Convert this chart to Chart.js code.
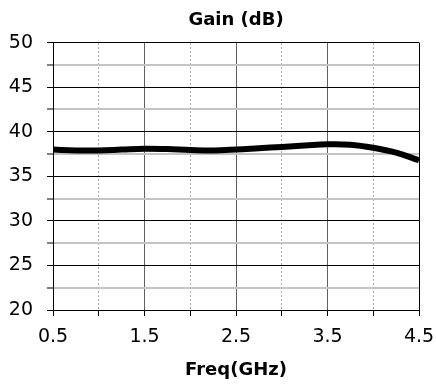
<!DOCTYPE html>
<html>
<head>
<meta charset="utf-8">
<script src="https://cdn.jsdelivr.net/npm/chart.js@4.4.1/dist/chart.umd.min.js"></script>
<style>
  html, body { margin: 0; padding: 0; background: #fff; }
  #wrap { width: 436px; height: 388px; }
</style>
</head>
<body>
<div id="wrap"><canvas id="gainChart" width="436" height="388"></canvas></div>
<script>
// values
const freqs = [0.5, 0.75, 1.0, 1.25, 1.5, 1.75, 2.0, 2.25, 2.5, 2.75, 3.0, 3.25, 3.5, 3.75, 4.0, 4.25, 4.5];
const gain = [38.0, 37.9, 37.9, 38.0, 38.1, 38.05, 37.95, 37.9, 38.0, 38.15, 38.3, 38.45, 38.6, 38.55, 38.2, 37.65, 36.8];
const xMajorTicks = [0.5, 1.5, 2.5, 3.5, 4.5];
const xMinorTicks = [1.0, 2.0, 3.0, 4.0];
const yTicks = [20, 25, 30, 35, 40, 45, 50];

const FONT = "'DejaVu Sans', Verdana, sans-serif";

const ctx = document.getElementById("gainChart").getContext("2d");
new Chart(ctx, {
  type: "line",
  data: {
    datasets: [{
      data: freqs.map((f, i) => ({ x: f, y: gain[i] })),
      borderColor: "#000",
      borderWidth: 6,
      pointRadius: 0,
      tension: 0.4,
      fill: false
    }]
  },
  options: {
    responsive: false,
    animation: false,
    layout: { padding: { left: 0, right: 17, top: 0, bottom: 0 } },
    plugins: {
      legend: { display: false },
      tooltip: { enabled: false },
      title: {
        display: true,
        fullSize: false,
        text: "Gain (dB)",
        color: "#000",
        font: { family: FONT, size: 18, weight: "bold" },
        padding: { top: 10, bottom: 11 }
      }
    },
    scales: {
      x: {
        type: "linear",
        position: "bottom",
        min: 0.5,
        max: 4.5,
        afterBuildTicks: axis => {
          axis.ticks = xMajorTicks.concat(xMinorTicks).sort((a, b) => a - b).map(v => ({ value: v }));
        },
        afterFit: axis => {
          axis.height = 78;
          axis.paddingLeft = 0;
          axis.paddingRight = 0;
        },
        ticks: {
          color: "#000",
          font: { family: FONT, size: 19 },
          padding: 10,
          maxRotation: 0,
          autoSkip: false,
          callback: v => xMajorTicks.includes(v) ? v.toFixed(1) : ""
        },
        grid: {
          color: c => {
            const v = c.tick ? c.tick.value : 0;
            if (!xMajorTicks.includes(v)) return "rgba(0,0,0,0)";
            return v === 4.5 ? "#000" : "#606060";
          },
          lineWidth: 1,
          tickColor: "#000",
          tickWidth: 1,
          tickLength: 6
        },
        border: { color: "#000", width: 1 },
        title: {
          display: true,
          text: "Freq(GHz)",
          color: "#000",
          font: { family: FONT, size: 18, weight: "bold" },
          padding: { top: 0, bottom: 7 }
        }
      },
      x2: {
        type: "linear",
        position: "top",
        min: 0.5,
        max: 4.5,
        afterBuildTicks: axis => {
          axis.ticks = xMinorTicks.map(v => ({ value: v }));
        },
        afterFit: axis => {
          axis.height = 0;
          axis.paddingLeft = 0;
          axis.paddingRight = 0;
        },
        ticks: { display: false },
        grid: { color: "#a8a8a8", lineWidth: 1, drawTicks: false },
        border: { display: false, dash: [2, 2] }
      },
      y: {
        min: 20,
        max: 50,
        afterBuildTicks: axis => {
          const t = [];
          for (let i = 0; i < yTicks.length; i++) {
            t.push({ value: yTicks[i] });
            if (i < yTicks.length - 1) t.push({ value: yTicks[i] + 2.5 });
          }
          axis.ticks = t;
        },
        afterFit: axis => { axis.width = 53; },
        ticks: {
          color: "#000",
          font: { family: FONT, size: 19 },
          padding: 14,
          autoSkip: false,
          callback: v => yTicks.includes(v) ? String(v) : ""
        },
        grid: {
          color: c => (c.tick && yTicks.includes(c.tick.value)) ? "#000" : "#c4c4c4",
          lineWidth: c => (c.tick && yTicks.includes(c.tick.value)) ? 1 : 2,
          tickColor: "#000",
          tickWidth: 1,
          tickLength: 6
        },
        border: { color: "#000", width: 1 }
      }
    }
  }
});
</script>
</body>
</html>
